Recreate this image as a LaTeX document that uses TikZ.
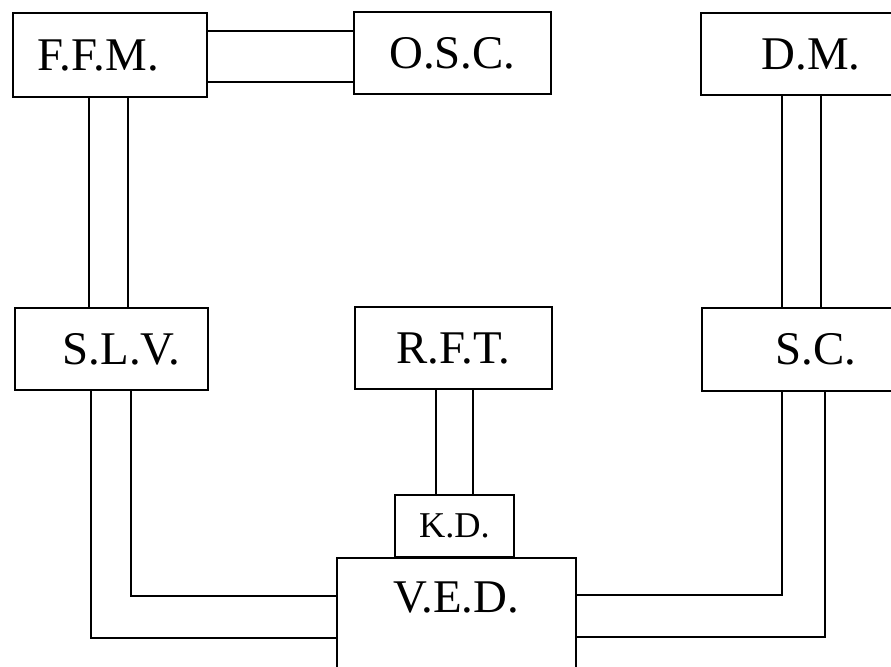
\documentclass[tikz,border=0pt]{standalone}
\usepackage{fontspec}
\setmainfont{Liberation Serif}

\tikzset{
    unit/.style = {draw, line width = 1.5pt, inner sep = 0pt, minimum height = 2.46cm,
                   font = \fontsize{40}{48}\selectfont},
    pipe/.style = {line width = 1.5pt}
}

\begin{document}
\begin{tikzpicture}[x = 0.03cm, y = -0.03cm]
            \useasboundingbox (0,0) rectangle (891,666);

            % top row
            \node[unit, minimum width = 5.82cm, minimum height = 2.52cm] (ffm) at (110,55) {F.F.M.\hspace*{0.7cm}};
            \node[unit, minimum width = 5.91cm] (osc) at (452.5,53) {O.S.C.};
            \node[unit, minimum width = 6.6cm] (dm) at (811,54) {D.M.};

            % middle row
            \node[unit, minimum width = 5.79cm] (slv) at (111.5,349) {\hspace*{0.6cm}S.L.V.};
            \node[unit, minimum width = 5.91cm] (rft) at (453.5,348) {R.F.T.};
            \node[unit, minimum width = 6.84cm, minimum height = 2.49cm] (sc) at (816,349.5) {S.C.};

            % bottom
            \node[unit, minimum width = 3.57cm, minimum height = 1.86cm,
                  font = \fontsize{31}{36}\selectfont] (kd) at (454.5,526) {K.D.};
            \node[unit, anchor = north, minimum width = 7.17cm, minimum height = 0pt,
                  text height = 1.65cm, text depth = 2.6cm] (ved) at (456.5,557) {V.E.D.};

            % straight pipes
            \draw[pipe] (ffm.east |- 0,31) -- (osc.west |- 0,31);
            \draw[pipe] (ffm.east |- 0,82) -- (osc.west |- 0,82);

            \draw[pipe] (ffm.south -| 89,0) -- (slv.north -| 89,0);
            \draw[pipe] (ffm.south -| 128,0) -- (slv.north -| 128,0);

            \draw[pipe] (dm.south -| 782,0) -- (sc.north -| 782,0);
            \draw[pipe] (dm.south -| 821,0) -- (sc.north -| 821,0);

            \draw[pipe] (rft.south -| 436,0) -- (kd.north -| 436,0);
            \draw[pipe] (rft.south -| 473,0) -- (kd.north -| 473,0);

            % bent pipes into V.E.D.
            \draw[pipe] (slv.south -| 131,0) |- (ved.west |- 0,596);
            \draw[pipe] (slv.south -| 91,0) |- (ved.west |- 0,638);

            \draw[pipe] (sc.south -| 782,0) |- (ved.east |- 0,595);
            \draw[pipe] (sc.south -| 825,0) |- (ved.east |- 0,637);
\end{tikzpicture}
\end{document}
